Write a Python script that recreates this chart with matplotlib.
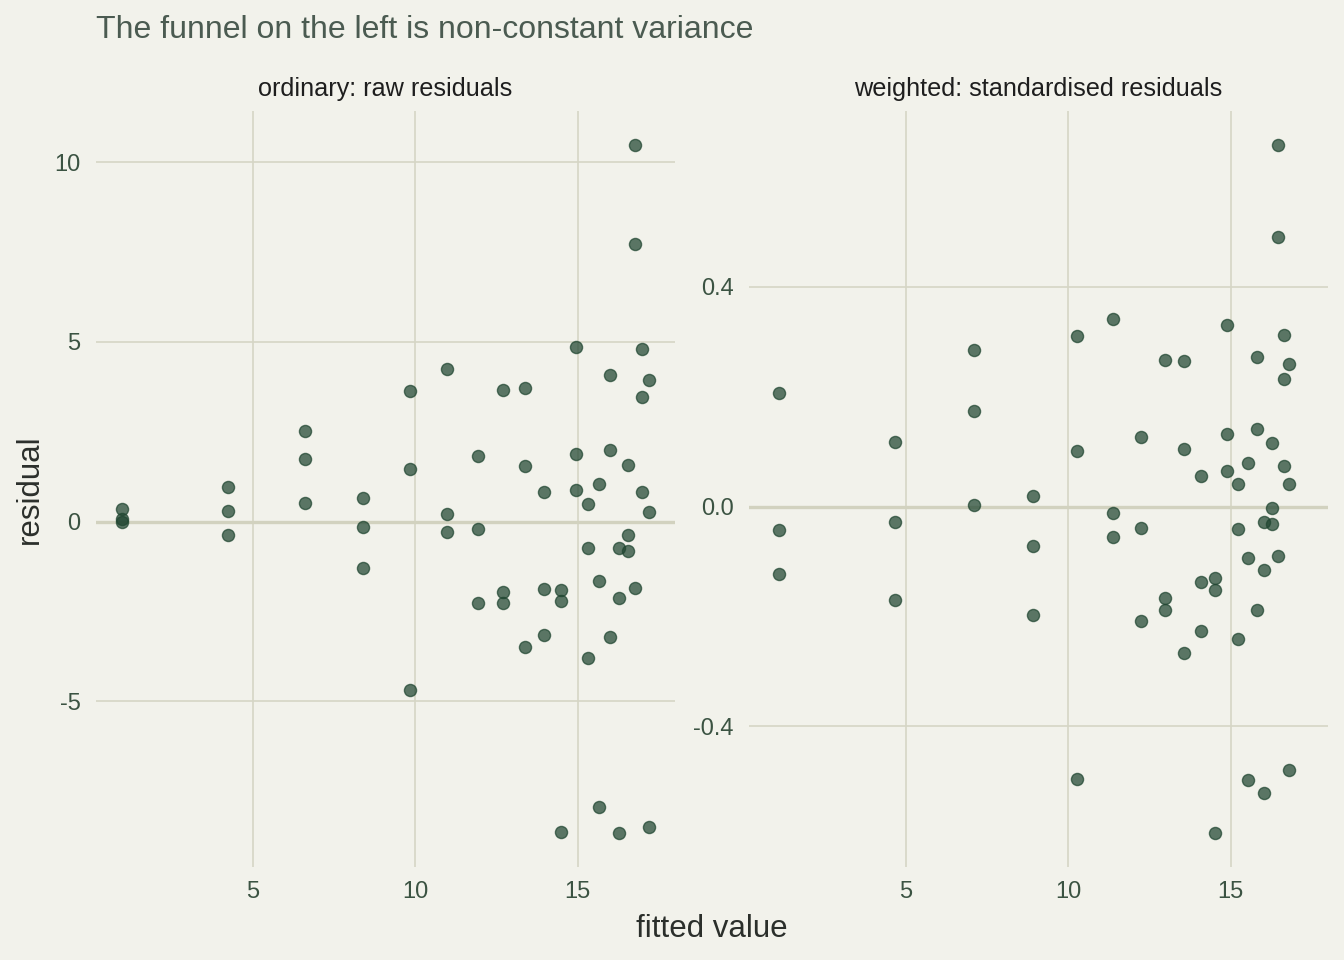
import numpy as np
import matplotlib
matplotlib.use('Agg')
import matplotlib.pyplot as plt

# Ordinary fit: fitted values and raw residuals (three points per fitted value)
ols_fitted = [0.98, 0.98, 0.98, 4.23, 4.23, 4.23, 6.60, 6.60, 6.60, 8.40, 8.40, 8.40,
              9.83, 9.83, 9.83, 10.97, 10.97, 10.97, 11.92, 11.92, 11.92, 12.71, 12.71, 12.71,
              13.38, 13.38, 13.38, 13.97, 13.97, 13.97, 14.48, 14.48, 14.48, 14.93, 14.93, 14.93,
              15.31, 15.31, 15.31, 15.66, 15.66, 15.66, 15.98, 15.98, 15.98, 16.26, 16.26, 16.26,
              16.53, 16.53, 16.53, 16.76, 16.76, 16.76, 16.96, 16.96, 16.96, 17.18, 17.18, 17.18]
ols_resid = [0.35, 0.08, -0.01, 0.97, 0.29, -0.38, 2.53, 1.74, 0.52, 0.66, -0.16, -1.29,
             3.62, 1.47, -4.69, 4.24, 0.21, -0.29, 1.81, -0.20, -2.27, 3.65, -1.96, -2.26,
             3.71, 1.54, -3.49, 0.81, -1.89, -3.15, -1.90, -2.22, -8.64, 4.87, 1.89, 0.87,
             0.49, -0.74, -3.81, 1.04, -1.65, -7.94, 4.07, 1.99, -3.21, -0.74, -2.13, -8.66,
             1.56, -0.37, -0.82, 10.47, 7.72, -1.84, 4.81, 3.47, 0.83, 3.94, 0.27, -8.49]

# Weighted fit: fitted values and standardised residuals
wls_fitted = [1.08, 1.08, 1.08, 4.65, 4.65, 4.65, 7.11, 7.11, 7.11, 8.90, 8.90, 8.90,
              10.28, 10.28, 10.28, 11.36, 11.36, 11.36, 12.23, 12.23, 12.23, 12.96, 12.96, 12.96,
              13.56, 13.56, 13.56, 14.08, 14.08, 14.08, 14.51, 14.51, 14.51, 14.89, 14.89, 14.89,
              15.22, 15.22, 15.22, 15.53, 15.53, 15.53, 15.80, 15.80, 15.80, 16.03, 16.03, 16.03,
              16.26, 16.26, 16.26, 16.45, 16.45, 16.45, 16.63, 16.63, 16.63, 16.78, 16.78, 16.78]
wls_resid = [0.207, -0.043, -0.122, 0.118, -0.028, -0.171, 0.285, 0.174, 0.003, 0.020, -0.072, -0.198,
             0.311, 0.102, -0.497, 0.342, -0.012, -0.055, 0.126, -0.039, -0.208, 0.267, -0.166, -0.189,
             0.265, 0.105, -0.266, 0.055, -0.138, -0.227, -0.130, -0.152, -0.594, 0.331, 0.133, 0.064,
             0.041, -0.040, -0.241, 0.079, -0.094, -0.499, 0.272, 0.141, -0.189, -0.028, -0.115, -0.522,
             0.116, -0.002, -0.031, 0.658, 0.491, -0.090, 0.313, 0.233, 0.074, 0.260, 0.042, -0.480]

panel_titles = ['ordinary: raw residuals', 'weighted: standardised residuals']
x_ticks = [5, 10, 15]
y_ticks_left = [-5, 0, 5, 10]
y_ticks_right = [-0.4, 0.0, 0.4]

bg = '#f2f2eb'
grid_col = '#d6d6c5'
zero_col = '#d2d2bf'
point_col = '#1f4530'
tick_col = '#3b5342'

plt.rcParams['font.family'] = ['Liberation Sans', 'DejaVu Sans']
plt.rcParams['axes.unicode_minus'] = False

fig = plt.figure(figsize=(13.44, 9.6), dpi=100, facecolor=bg)
W, H = 1344, 960


def expand(vals):
    lo, hi = min(vals), max(vals)
    pad = (hi - lo) * 0.05
    return lo - pad, hi + pad


xlim = expand(ols_fitted + wls_fitted)

panels = [
    (96, ols_fitted, ols_resid, y_ticks_left, ['-5', '0', '5', '10']),
    (749, wls_fitted, wls_resid, y_ticks_right, ['-0.4', '0.0', '0.4']),
]

for i, (left, fx, res, yt, ytl) in enumerate(panels):
    ax = fig.add_axes([left / W, 1 - 867 / H, 579 / W, 756 / H])
    ax.set_facecolor(bg)
    for s in ax.spines.values():
        s.set_visible(False)
    ax.set_xlim(*xlim)
    ax.set_ylim(*expand(res))
    ax.set_xticks(x_ticks)
    ax.set_xticklabels([str(t) for t in x_ticks])
    ax.set_yticks(yt)
    ax.set_yticklabels(ytl)
    ax.tick_params(length=0, labelsize=17, labelcolor=tick_col)
    ax.tick_params(axis='x', pad=10)
    ax.tick_params(axis='y', pad=11)
    ax.grid(True, color=grid_col, linewidth=1.2)
    ax.set_axisbelow(True)
    ax.axhline(0, color=zero_col, linewidth=2.4, zorder=1)
    ax.scatter(fx, res, s=76, color=point_col, alpha=0.72, linewidths=1.0,
               edgecolors=point_col, zorder=3)
    fig.text((left + 289.5) / W, 1 - 96 / H, panel_titles[i], ha='center', va='baseline',
             fontsize=18.2, color='#1e1e1e')

fig.text(96 / W, 1 - 38 / H, 'The funnel on the left is non-constant variance',
         ha='left', va='baseline', fontsize=23, color='#4b5b51')
fig.text(711.5 / W, 1 - 937 / H, 'fitted value', ha='center', va='baseline',
         fontsize=22.5, color='#2b2f2b')
fig.text(38 / W, 1 - 489 / H, 'residual', ha='center', va='baseline', rotation=90,
         rotation_mode='anchor', fontsize=22.5, color='#2b2f2b')

fig.savefig('out.png', dpi=100, facecolor=bg)
